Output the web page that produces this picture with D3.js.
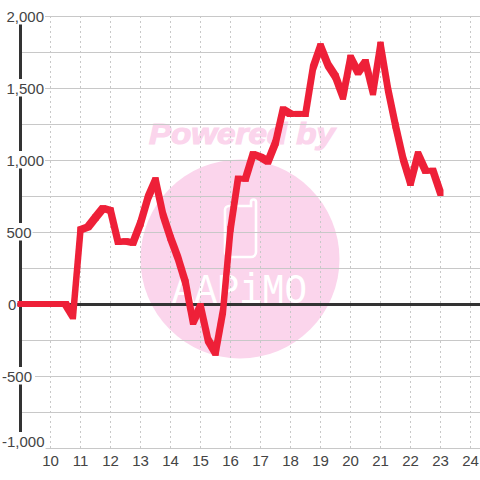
<!DOCTYPE html>
<html><head><meta charset="utf-8">
<script src="https://cdn.jsdelivr.net/npm/d3@7"></script>
<style>html,body{margin:0;padding:0;background:#fff}svg{display:block}text{font-family:"Liberation Sans",Arial,sans-serif}</style>
</head><body><svg id="c" width="480" height="480"></svg>
<script>
const xTicks=[10,11,12,13,14,15,16,17,18,19,20,21,22,23,24];
const yLabels=[2000,1500,1000,500,0,-500,-1000];
const yGrid=[2000,1750,1500,1250,1000,750,500,250,-250,-500,-750,-1000];
const hours=[9,10,10.25,10.5,10.75,11,11.25,11.5,11.75,12,12.25,12.5,12.75,13,13.25,13.5,13.75,14,14.25,14.5,14.75,15,15.25,15.5,15.75,16,16.25,16.5,16.75,17,17.25,17.5,17.75,18,18.25,18.5,18.75,19,19.25,19.5,19.75,20,20.25,20.5,20.75,21,21.25,21.5,21.75,22,22.25,22.5,22.75,23];
const values=[0,0,0,0,-85,515,535,600,665,650,430,435,425,560,740,860,620,460,320,150,-125,-15,-250,-338,-50,520,870,870,1040,1020,990,1120,1350,1320,1320,1320,1640,1790,1660,1580,1440,1710,1610,1680,1470,1800,1490,1240,1010,840,1040,925,925,770];
const watermark="Powered by", logoText="AAPiMO";
const x=d3.scaleLinear().domain([10,24]).range([50.5,470.5]);
const y=d3.scaleLinear().domain([2000,-1000]).range([16,448]);
const svg=d3.select("#c"), PINK="#fbd5ec", GRID="#c8c8c8", DARK="#333", RED="#ee2038";
// watermark
svg.append("circle").attr("cx",240).attr("cy",259).attr("r",99.5).attr("fill",PINK);
svg.append("text").attr("x",149).attr("y",144).attr("font-size",30).attr("font-weight","bold").attr("font-style","italic").attr("fill",PINK).attr("stroke",PINK).attr("stroke-width",1.2).attr("textLength",186).attr("lengthAdjust","spacingAndGlyphs").text(watermark);
svg.append("path").attr("d","M229 206 H251 V202 a2.5 2.5 0 0 1 5 0 V252 a5 5 0 0 1 -5 5 H230 a5 5 0 0 1 -5 -5 V210 a4 4 0 0 1 4 -4 Z").attr("fill","none").attr("stroke","#fff").attr("stroke-width",2.6);
svg.append("text").attr("x",172).attr("y",303).attr("font-size",43).attr("textLength",135).attr("lengthAdjust","spacingAndGlyphs").attr("fill","#fff").style("font-family","'Liberation Mono',monospace").text(logoText);
// grid
svg.append("g").selectAll("line").data(yGrid).join("line").attr("x1",20).attr("x2",480).attr("y1",d=>y(d)+.5).attr("y2",d=>y(d)+.5).attr("stroke",GRID).attr("stroke-width",1);
svg.append("g").selectAll("line").data(xTicks).join("line").attr("x1",d=>x(d)).attr("x2",d=>x(d)).attr("y1",16).attr("y2",448).attr("stroke",GRID).attr("stroke-dasharray","2,3");
// axes
svg.append("line").attr("x1",20.5).attr("x2",20.5).attr("y1",16).attr("y2",448).attr("stroke",DARK).attr("stroke-width",3);
svg.append("line").attr("x1",17).attr("x2",480).attr("y1",y(0)+.5).attr("y2",y(0)+.5).attr("stroke",DARK).attr("stroke-width",3);
// labels
const fmt=d3.format(",");
const lab=svg.append("g").selectAll("g").data(yLabels).join("g");
lab.append("rect").attr("fill","#fff");
lab.append("text").attr("x",d=>d<0?2:(d===0?8:6.5)).attr("y",d=>(d===-1000?y(d)-7:y(d))+5.5).attr("font-size",15).attr("fill","#444").text(d=>fmt(d).replace("−","-"));
lab.each(function(d){const b=d3.select(this).select("text").node().getBBox();d3.select(this).select("rect").attr("x",b.x).attr("y",b.y-.5).attr("width",b.width+(d===-500?3:1)).attr("height",b.height+.5)});
svg.append("g").selectAll("text").data(xTicks).join("text").attr("x",d=>x(d)).attr("y",466).attr("text-anchor","middle").attr("font-size",15).attr("fill","#444").text(d=>d);
// data line, square brush
const pts=hours.map((h,i)=>[x(h),y(values[i])]), r=3;
const segs=d3.pairs(pts).map(([a,b])=>d3.polygonHull([a,b].flatMap(p=>[[p[0]-r,p[1]-r],[p[0]+r,p[1]-r],[p[0]+r,p[1]+r],[p[0]-r,p[1]+r]])));
svg.append("g").selectAll("path").data(segs).join("path").attr("d",d=>"M"+d.join("L")+"Z").attr("fill",RED);
</script></body></html>
